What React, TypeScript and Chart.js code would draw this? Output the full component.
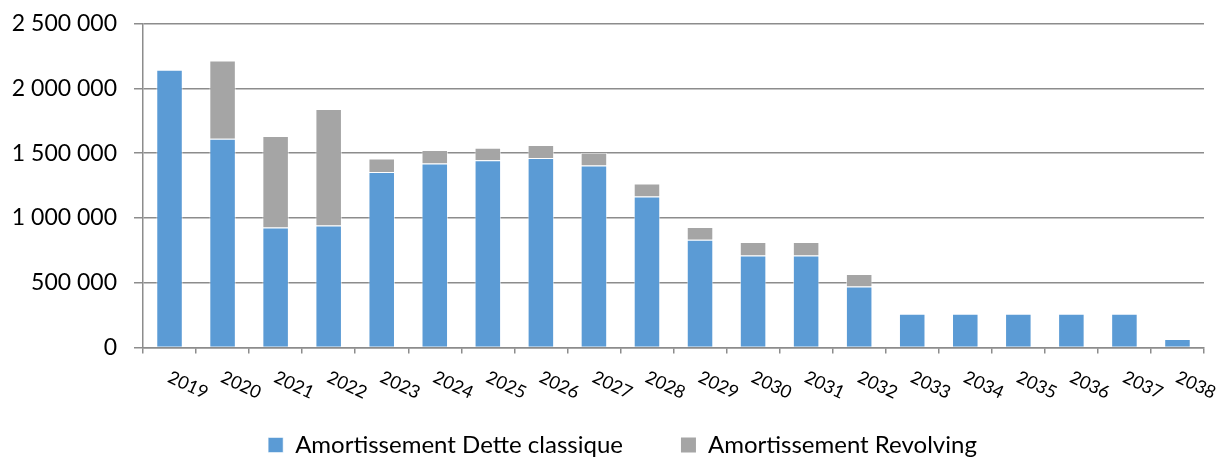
import React, { useEffect, useRef } from "react";
import { Chart, registerables } from "chart.js";

Chart.register(...registerables);

const years = ["2019", "2020", "2021", "2022", "2023", "2024", "2025", "2026", "2027", "2028", "2029", "2030", "2031", "2032", "2033", "2034", "2035", "2036", "2037", "2038"];
const detteClassique = [2144000, 1611000, 926000, 941000, 1354000, 1420000, 1444000, 1462000, 1405000, 1165000, 831000, 710000, 710000, 470000, 261000, 261000, 261000, 261000, 261000, 66000];
const revolving = [0, 603000, 706000, 900000, 105000, 104000, 98000, 100000, 98000, 101000, 98000, 105000, 105000, 98000, 0, 0, 0, 0, 0, 0];
const seriesLabels = ["Amortissement Dette classique", "Amortissement Revolving"];

const FONT = "Lato";
const GRID = "#8c8c8c";

const fmt = (v: number) => String(v).replace(/\B(?=(\d{3})+(?!\d))/g, " ");

const rotatedXLabels = {
  id: "rotatedXLabels",
  afterDraw(chart: any) {
    const x = chart.scales.x;
    const ctx = chart.ctx;
    ctx.save();
    ctx.font = `18px ${FONT}`;
    ctx.fillStyle = "#000";
    ctx.textAlign = "left";
    ctx.textBaseline = "alphabetic";
    const labels = chart.data.labels as string[];
    labels.forEach((lab, i) => {
      const px = x.getPixelForValue(i);
      ctx.save();
      ctx.translate(px - 3, x.top + 34);
      ctx.rotate((25 * Math.PI) / 180);
      ctx.fillText(lab, 0, 0);
      ctx.restore();
    });
    ctx.restore();
  },
};

const shiftLegend = {
  id: "shiftLegend",
  afterLayout(chart: any) {
    const lg = chart.legend;
    if (lg) {
      lg.left += 20.5;
      lg.right += 20.5;
    }
  },
};

export default function App() {
  const ref = useRef<HTMLCanvasElement | null>(null);
  useEffect(() => {
    if (!ref.current) return;
    const bw = (c: any) => (c.raw ? 1 : 0);
    const chart = new Chart(ref.current, {
      type: "bar",
      data: {
        labels: years,
        datasets: [
          {
            label: seriesLabels[0],
            data: detteClassique,
            backgroundColor: "#5B9BD5",
            borderColor: "rgba(255,255,255,0.55)",
            borderWidth: bw,
            barPercentage: 0.5,
            categoryPercentage: 1,
          },
          {
            label: seriesLabels[1],
            data: revolving,
            backgroundColor: "#A5A5A5",
            borderColor: "rgba(255,255,255,0.55)",
            borderWidth: bw,
            barPercentage: 0.5,
            categoryPercentage: 1,
          },
        ],
      },
      options: {
        animation: false,
        responsive: true,
        maintainAspectRatio: false,
        layout: { padding: { left: 0, right: 13, top: 23.5, bottom: -10 } },
        plugins: {
          tooltip: { enabled: false },
          legend: {
            position: "bottom",
            labels: {
              font: { family: FONT, size: 24 },
              color: "#000",
              boxWidth: 15,
              boxHeight: 15,
              padding: 58,
            },
          },
        },
        scales: {
          x: {
            stacked: true,
            grid: { drawOnChartArea: false, drawTicks: true, tickLength: 6, offset: true, color: GRID, lineWidth: 1.5 },
            border: { color: GRID, width: 1.5 },
            ticks: { display: false },
            afterFit: (s: any) => {
              s.height = 27.5;
            },
          },
          y: {
            stacked: true,
            min: 0,
            max: 2500000,
            grid: { color: GRID, lineWidth: 1.5, tickLength: 9 },
            border: { color: GRID, width: 1.5 },
            ticks: {
              stepSize: 500000,
              padding: 17,
              color: "#000",
              font: { family: FONT, size: 23, lineHeight: 0.5 },
              callback: (v: any) => fmt(Number(v)),
            },
            afterFit: (s: any) => {
              s.width = 143;
            },
          },
        },
      },
      plugins: [rotatedXLabels, shiftLegend],
    });
    return () => chart.destroy();
  }, []);
  return (
    <div style={{ position: "fixed", left: 0, top: 0, width: 1217, height: 457, background: "#fff" }}>
      <canvas ref={ref} />
    </div>
  );
}
